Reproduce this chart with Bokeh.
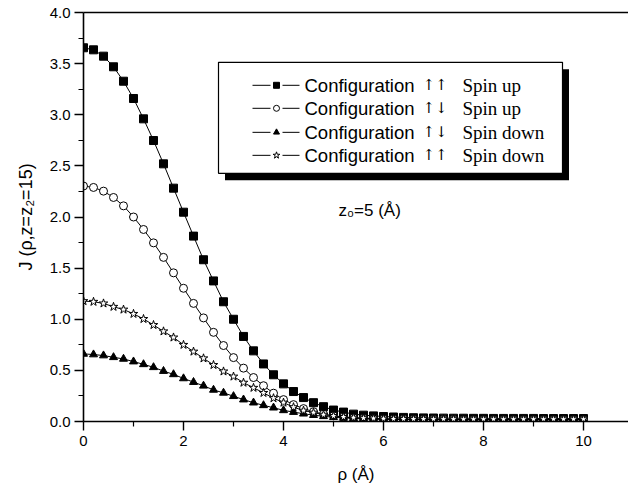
from bokeh.plotting import figure
from bokeh.models import (Range1d, LinearAxis, NumeralTickFormatter, Label,
                          FixedTicker, ColumnDataSource)
from bokeh.embed import file_html
from bokeh.resources import INLINE

# ---------------- data ----------------
rho = [0.0, 0.2, 0.4, 0.6, 0.8, 1.0, 1.2, 1.4, 1.6, 1.8,
       2.0, 2.2, 2.4, 2.6, 2.8, 3.0, 3.2, 3.4, 3.6, 3.8,
       4.0, 4.2, 4.4, 4.6, 4.8, 5.0, 5.2, 5.4, 5.6, 5.8,
       6.0, 6.2, 6.4, 6.6, 6.8, 7.0, 7.2, 7.4, 7.6, 7.8,
       8.0, 8.2, 8.4, 8.6, 8.8, 9.0, 9.2, 9.4, 9.6, 9.8, 10.0]

cfg_uu_spin_up = [3.655, 3.635, 3.573, 3.469, 3.328, 3.159, 2.960, 2.748, 2.520, 2.282,
                  2.047, 1.813, 1.582, 1.375, 1.171, 1.000, 0.832, 0.691, 0.563, 0.457,
                  0.368, 0.293, 0.234, 0.184, 0.145, 0.112, 0.092, 0.072, 0.062, 0.055,
                  0.049, 0.044, 0.040, 0.037, 0.035, 0.034, 0.033, 0.032, 0.032, 0.031,
                  0.031, 0.030, 0.030, 0.030, 0.030, 0.030, 0.029, 0.029, 0.029, 0.029, 0.029]

cfg_ud_spin_up = [2.303, 2.289, 2.253, 2.191, 2.109, 2.000, 1.878, 1.747, 1.605, 1.454,
                  1.303, 1.155, 1.013, 0.872, 0.743, 0.625, 0.522, 0.430, 0.350, 0.277,
                  0.214, 0.165, 0.126, 0.096, 0.072, 0.055, 0.043, 0.035, 0.030, 0.026,
                  0.024, 0.022, 0.021, 0.020, 0.020, 0.019, 0.019, 0.019, 0.018, 0.018,
                  0.018, 0.018, 0.018, 0.018, 0.018, 0.018, 0.018, 0.018, 0.018, 0.018, 0.018]

cfg_ud_spin_down = [0.661, 0.655, 0.645, 0.628, 0.612, 0.586, 0.559, 0.530, 0.493, 0.461,
                    0.421, 0.385, 0.349, 0.309, 0.280, 0.247, 0.214, 0.184, 0.158, 0.135,
                    0.109, 0.092, 0.076, 0.062, 0.051, 0.042, 0.035, 0.030, 0.026, 0.023,
                    0.021, 0.020, 0.019, 0.018, 0.018, 0.017, 0.017, 0.017, 0.017, 0.016,
                    0.016, 0.016, 0.016, 0.016, 0.016, 0.016, 0.016, 0.016, 0.016, 0.016, 0.016]

cfg_uu_spin_down = [1.178, 1.171, 1.155, 1.122, 1.095, 1.053, 1.003, 0.944, 0.882, 0.822,
                    0.750, 0.684, 0.618, 0.553, 0.490, 0.440, 0.380, 0.330, 0.280, 0.228,
                    0.185, 0.140, 0.107, 0.087, 0.067, 0.055, 0.045, 0.038, 0.033, 0.030,
                    0.028, 0.026, 0.025, 0.024, 0.024, 0.023, 0.023, 0.023, 0.022, 0.022,
                    0.022, 0.022, 0.022, 0.022, 0.022, 0.022, 0.022, 0.022, 0.022, 0.022, 0.022]

series_labels = ["Configuration", "Configuration", "Configuration", "Configuration"]
series_arrows = ["\u2191\u2191", "\u2191\u2193", "\u2191\u2193", "\u2191\u2191"]
series_spins = ["Spin up", "Spin up", "Spin down", "Spin down"]
series_markers = ["square", "circle", "triangle", "star"]
series_fills = ["black", "white", "black", "white"]
series_values = [cfg_uu_spin_up, cfg_ud_spin_up, cfg_ud_spin_down, cfg_uu_spin_down]

x_ticks = [0, 2, 4, 6, 8, 10]
x_minor = [1, 3, 5, 7, 9]
y_ticks = [0.0, 0.5, 1.0, 1.5, 2.0, 2.5, 3.0, 3.5, 4.0]
y_minor = [0.25, 0.75, 1.25, 1.75, 2.25, 2.75, 3.25, 3.75]

SANS = "Liberation Sans"
SERIF = "Liberation Serif"
ARROW_FONT = "DejaVu Serif"

# ---------------- figure ----------------
p = figure(width=628, height=487, output_backend="svg", toolbar_location=None,
           x_range=Range1d(0, 10.9), y_range=Range1d(0, 4.0),
           min_border_left=83, min_border_right=0, min_border_top=12,
           min_border_bottom=66, x_axis_label="\u03c1 (\u00c5)",
           y_axis_label="J (\u03c1,z=z\u2082=15)")
p.outline_line_color = None
p.xgrid.visible = False
p.ygrid.visible = False
p.background_fill_color = "white"
p.border_fill_color = "white"

for ax in (p.xaxis[0], p.yaxis[0]):
    ax.axis_line_width = 1.6
    ax.axis_line_color = "black"
    ax.major_tick_line_width = 1.4
    ax.minor_tick_line_width = 1.2
    ax.major_tick_in = 0
    ax.major_tick_out = 9
    ax.minor_tick_in = 0
    ax.minor_tick_out = 5
    ax.major_label_text_font = SANS
    ax.major_label_text_font_size = "15px"
    ax.major_label_text_color = "black"
    ax.axis_label_text_font = SANS
    ax.axis_label_text_font_size = "17px"
    ax.axis_label_text_font_style = "normal"
    ax.axis_label_text_color = "black"

p.yaxis[0].axis_label_text_font_size = "18px"
p.xaxis[0].ticker = FixedTicker(ticks=x_ticks, minor_ticks=x_minor)
p.yaxis[0].ticker = FixedTicker(ticks=y_ticks, minor_ticks=y_minor)
p.yaxis[0].formatter = NumeralTickFormatter(format="0.0")
p.xaxis[0].major_label_standoff = 5
p.xaxis[0].axis_label_standoff = 16
p.yaxis[0].major_label_standoff = 4
p.yaxis[0].axis_label_standoff = 11

top_axis = LinearAxis(axis_line_width=1.6, major_tick_line_color=None,
                      minor_tick_line_color=None, major_label_text_font_size="0px",
                      axis_label=None)
top_axis.major_label_text_color = None
p.add_layout(top_axis, "above")

# ---------------- curves ----------------
for vals, mk, fc in zip(series_values, series_markers, series_fills):
    src = ColumnDataSource(dict(x=rho, y=vals))
    p.line("x", "y", source=src, line_color="black", line_width=1)
    p.scatter("x", "y", source=src, marker=mk, size=8 if mk != "star" else 9,
              fill_color=fc, line_color="black", line_width=1)

# ---------------- legend (drawn by hand, as glyphs) ----------------
box_l, box_r, box_t, box_b = 2.70, 9.58, 3.513, 2.427
shadow_dx, shadow_dy = 0.13, 0.068
p.quad(left=[box_l + shadow_dx], right=[box_r + shadow_dx],
       top=[box_t - shadow_dy], bottom=[box_b - shadow_dy],
       fill_color="black", line_color=None)
p.quad(left=[box_l], right=[box_r], top=[box_t], bottom=[box_b],
       fill_color="white", line_color="black", line_width=1.2)

row_y = [3.288, 3.063, 2.828, 2.603]
seg_a = (3.38, 3.74)
seg_b = (3.98, 4.32)
mark_x = 3.86
for ry, lab, arr, spin, mk, fc in zip(row_y, series_labels, series_arrows, series_spins,
                                      series_markers, series_fills):
    p.segment(x0=[seg_a[0], seg_b[0]], y0=[ry, ry], x1=[seg_a[1], seg_b[1]], y1=[ry, ry],
              line_color="black", line_width=1)
    p.scatter(x=[mark_x], y=[ry], marker=mk, size=6 if mk != "star" else 7,
              fill_color=fc, line_color="black", line_width=1)
    p.add_layout(Label(x=4.42, y=ry, text=lab, text_font=SANS, text_font_size="18.5px",
                       text_baseline="middle", text_color="black"))
    p.add_layout(Label(x=6.78, y=ry, text=arr, text_font=ARROW_FONT, text_font_size="15px",
                       text_baseline="middle", text_color="black"))
    p.add_layout(Label(x=7.58, y=ry, text=spin, text_font=SERIF, text_font_size="19px",
                       text_baseline="middle", text_color="black"))

p.add_layout(Label(x=5.1, y=2.065, text="z\u2080=5 (\u00c5)", text_font=SANS,
                   text_font_size="17px", text_baseline="middle", text_color="black"))

open("out.html", "w").write(file_html(p, INLINE))
